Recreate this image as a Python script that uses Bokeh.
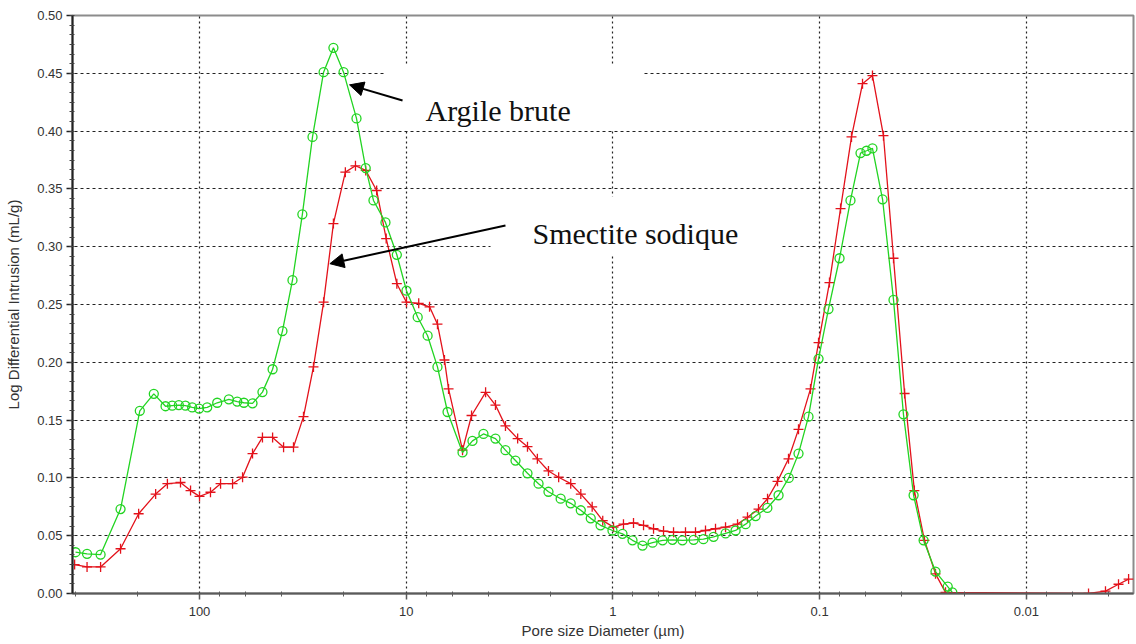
from bokeh.plotting import figure
from bokeh.models import (Range1d, FixedTicker, CustomJSTickFormatter, PrintfTickFormatter,
                          BoxAnnotation, Arrow, NormalHead, Label)
from bokeh.embed import file_html
from bokeh.resources import INLINE

# Log differential intrusion vs pore diameter (mercury porosimetry)
# Argile brute (raw clay)
argile_d = [398, 350, 301, 241, 194.5, 166.4, 146.0, 135.6, 125.9, 116.9, 108.5, 100.5,
            91.8, 82.1, 72.1, 65.7, 61.0, 55.4, 49.6, 44.3, 39.7, 35.5, 31.8, 28.4, 25.1,
            22.5, 20.1, 17.4, 15.7, 14.4, 12.6, 11.1, 9.97, 8.8, 7.88, 7.06, 6.31, 5.34,
            4.78, 4.23, 3.70, 3.31, 2.96, 2.59, 2.29, 2.05, 1.79, 1.60, 1.43, 1.28, 1.148,
            1.005, 0.899, 0.804, 0.719, 0.643, 0.575, 0.515, 0.461, 0.407, 0.365, 0.326,
            0.285, 0.255, 0.228, 0.204, 0.179, 0.158, 0.141, 0.1265, 0.1132, 0.1012,
            0.0906, 0.0801, 0.0709, 0.0634, 0.0593, 0.0555, 0.0496, 0.0439, 0.0393,
            0.0351, 0.0314, 0.0275, 0.0240, 0.0228]
argile_v = [0.0357, 0.0343, 0.0337, 0.073, 0.158, 0.1727, 0.162, 0.1625, 0.163, 0.1625,
            0.161, 0.160, 0.161, 0.165, 0.168, 0.166, 0.165, 0.1645, 0.1742, 0.194, 0.227,
            0.271, 0.328, 0.395, 0.451, 0.472, 0.451, 0.411, 0.368, 0.340, 0.321, 0.293,
            0.262, 0.239, 0.223, 0.196, 0.157, 0.122, 0.132, 0.138, 0.134, 0.124, 0.115,
            0.104, 0.095, 0.088, 0.082, 0.078, 0.072, 0.065, 0.059, 0.0545, 0.0516, 0.046,
            0.0415, 0.044, 0.046, 0.0464, 0.046, 0.0464, 0.047, 0.049, 0.052, 0.0545,
            0.060, 0.067, 0.074, 0.085, 0.100, 0.121, 0.153, 0.203, 0.246, 0.290, 0.340,
            0.381, 0.383, 0.385, 0.341, 0.254, 0.155, 0.085, 0.046, 0.019, 0.006, 0.001]

# Smectite sodique (sodium smectite)
smectite_d = [402, 350, 301, 241, 197, 163, 143, 123.6, 110.5, 100, 88.5, 79.1, 69.2, 61.9,
              55.4, 49.6, 44.3, 39.2, 35.1, 31.4, 28.1, 25.1, 22.5, 19.7, 17.6, 15.7, 13.9,
              12.5, 11.1, 9.97, 8.7, 7.71, 7.06, 6.53, 6.24, 5.34, 4.83, 4.13, 3.70, 3.31,
              2.89, 2.59, 2.32, 2.05, 1.83, 1.60, 1.43, 1.26, 1.12, 0.993, 0.889, 0.795,
              0.711, 0.636, 0.569, 0.509, 0.4455, 0.3985, 0.3565, 0.3189, 0.2852, 0.2495,
              0.2233, 0.1975, 0.1786, 0.1598, 0.1414, 0.1265, 0.1107, 0.1012, 0.0896,
              0.0792, 0.0701, 0.0620, 0.0555, 0.0491, 0.0439, 0.0388, 0.0348, 0.0311,
              0.0275, 0.0246, 0.0050, 0.00414, 0.00358, 0.0032]
smectite_v = [0.025, 0.023, 0.023, 0.0387, 0.069, 0.086, 0.095, 0.096, 0.089, 0.084, 0.0876,
              0.095, 0.095, 0.1006, 0.121, 0.135, 0.135, 0.1266, 0.1266, 0.153, 0.196, 0.252,
              0.320, 0.3645, 0.370, 0.366, 0.3486, 0.307, 0.268, 0.252, 0.251, 0.248, 0.233,
              0.202, 0.177, 0.124, 0.154, 0.174, 0.163, 0.145, 0.134, 0.127, 0.1165, 0.106,
              0.1006, 0.095, 0.086, 0.075, 0.063, 0.0574, 0.060, 0.061, 0.059, 0.056, 0.054,
              0.053, 0.053, 0.053, 0.0545, 0.056, 0.0574, 0.060, 0.066, 0.073, 0.082, 0.097,
              0.1165, 0.142, 0.177, 0.217, 0.269, 0.333, 0.395, 0.441, 0.448, 0.396, 0.290,
              0.173, 0.089, 0.046, 0.017, 0.001, 0.0, 0.002, 0.008, 0.0125]

x_ticks = [100, 10, 1, 0.1, 0.01]
x_tick_labels = ["100", "10", "1", "0.1", "0.01"]
x_minor = [400, 200, 80, 60, 40, 20, 8, 6, 4, 2, 0.8, 0.6, 0.4, 0.2,
           0.08, 0.06, 0.04, 0.02, 0.008, 0.006, 0.004]
y_ticks = [0.00, 0.05, 0.10, 0.15, 0.20, 0.25, 0.30, 0.35, 0.40, 0.45, 0.50]

GREEN = "#22d422"
RED = "#e3121b"

p = figure(width=1136, height=644, x_axis_type="log",
           x_range=Range1d(411.6, 0.00303), y_range=Range1d(0, 0.5),
           output_backend="svg", toolbar_location=None,
           min_border_left=72, min_border_right=3, min_border_top=15, min_border_bottom=51,
           background_fill_color="white", border_fill_color="white")

p.outline_line_color = "#8c8c8c"
p.outline_line_width = 2

# axes
p.xaxis.ticker = FixedTicker(ticks=x_ticks, minor_ticks=x_minor)
p.xaxis.formatter = CustomJSTickFormatter(args=dict(vals=x_ticks, labs=x_tick_labels), code="""
    const i = vals.findIndex(v => Math.abs(Math.log10(v) - Math.log10(tick)) < 1e-6);
    return i >= 0 ? labs[i] : '';
""")
y_minor = [round(i * 0.05 / 6, 5) for i in range(61)]
p.yaxis.ticker = FixedTicker(ticks=y_ticks, minor_ticks=y_minor)
p.yaxis.formatter = PrintfTickFormatter(format="%.2f")

for ax in (p.xaxis[0], p.yaxis[0]):
    ax.major_label_text_font = "Liberation Sans"
    ax.major_label_text_font_size = "13px"
    ax.major_label_text_color = "#333333"
    ax.axis_label_text_font = "Liberation Sans"
    ax.axis_label_text_font_size = "15px"
    ax.axis_label_text_font_style = "normal"
    ax.axis_label_text_color = "#333333"
    ax.axis_line_width = 2
    ax.major_tick_line_width = 1.5
    ax.major_tick_out = 6
    ax.major_tick_in = 0
    ax.minor_tick_out = 3
    ax.minor_tick_in = 2
    ax.minor_tick_line_width = 1

p.xaxis.axis_label = "Pore size Diameter (\u00b5m)"
p.yaxis.axis_label = "Log Differential Intrusion (mL/g)"
p.xaxis.axis_line_color = "#5a5a5a"
p.xaxis.major_tick_line_color = "#5a5a5a"
p.xaxis.minor_tick_line_color = "#5a5a5a"
p.yaxis.axis_line_color = "#222222"
p.yaxis.major_tick_line_color = "#222222"
p.yaxis.minor_tick_line_color = "#444444"
p.xaxis.major_label_standoff = 7
p.xaxis.axis_label_standoff = 3
p.yaxis.major_label_standoff = 4
p.yaxis.axis_label_standoff = 12

# grid
p.xgrid.grid_line_color = "#222222"
p.xgrid.grid_line_dash = "2 3"
p.xgrid.grid_line_width = 1.2
p.ygrid.grid_line_color = "#222222"
p.ygrid.grid_line_dash = "3 3"
p.ygrid.grid_line_width = 1.2

# curves
p.line(smectite_d, smectite_v, line_color=RED, line_width=1.3)
p.scatter(smectite_d, smectite_v, marker="cross", size=10, line_color=RED, line_width=1.3)
p.line(argile_d, argile_v, line_color=GREEN, line_width=1.3)
p.scatter(argile_d, argile_v, marker="circle", size=9, line_color=GREEN,
          fill_color=None, line_width=1.3)

# white panels behind the annotations
p.add_layout(BoxAnnotation(left=12.6, right=0.711, bottom=0.401, top=0.457,
                           fill_color="white", fill_alpha=1.0, line_color=None))
p.add_layout(BoxAnnotation(left=3.91, right=0.1545, bottom=0.2933, top=0.3434,
                           fill_color="white", fill_alpha=1.0, line_color=None))

# annotations
p.add_layout(Arrow(end=NormalHead(size=14, fill_color="black", line_color="black"),
                   x_start=10.42, y_start=0.4265, x_end=18.8, y_end=0.4400,
                   line_color="black", line_width=2))
p.add_layout(Arrow(end=NormalHead(size=14, fill_color="black", line_color="black"),
                   x_start=3.31, y_start=0.3183, x_end=23.4, y_end=0.2853,
                   line_color="black", line_width=2))
p.add_layout(Label(x=8.07, y=0.4178, text="Argile brute", text_font="Liberation Serif",
                   text_font_size="30px", text_color="#111111", text_baseline="alphabetic"))
p.add_layout(Label(x=2.45, y=0.3114, text="Smectite sodique", text_font="Liberation Serif",
                   text_font_size="30px", text_color="#111111", text_baseline="alphabetic"))

open("out.html", "w").write(file_html(p, INLINE))
